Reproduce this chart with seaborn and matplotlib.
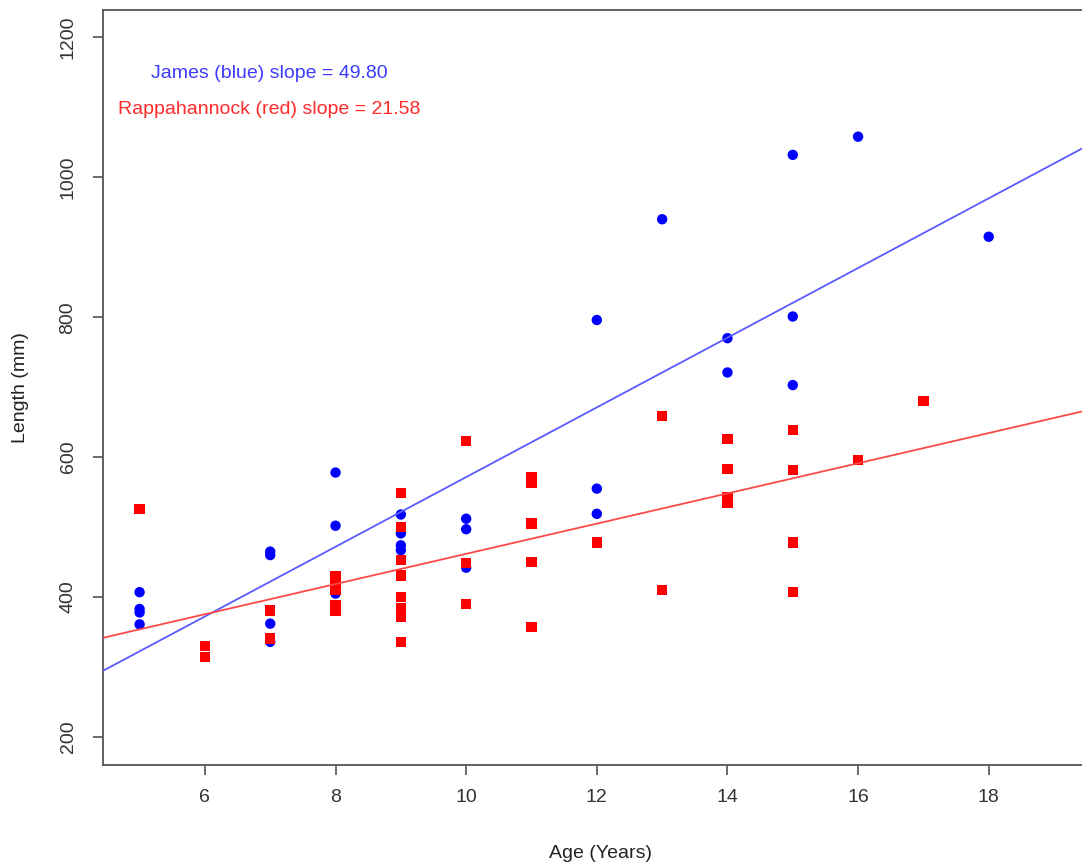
import matplotlib
matplotlib.use("Agg")
import matplotlib.pyplot as plt
import seaborn as sns
import pandas as pd

# Striped bass length-at-age for two rivers
james_age = [5, 5, 5, 5, 7, 7, 7, 7, 8, 8, 8, 9, 9, 9, 9, 10, 10, 10,
             12, 12, 12, 13, 14, 14, 15, 15, 15, 16, 18]
james_len = [407, 383, 378, 361, 465, 460, 362, 336, 578, 502, 405, 518, 491, 474, 467,
             512, 497, 442, 796, 555, 519, 940, 770, 721, 1032, 801, 703, 1058, 915]

rapp_age = [5, 6, 6, 7, 7, 8, 8, 8, 8, 8, 9, 9, 9, 9, 9, 9, 9, 9, 9,
            10, 10, 10, 11, 11, 11, 11, 11, 12, 13, 13, 14, 14, 14, 14,
            15, 15, 15, 15, 16, 17]
rapp_len = [526, 330, 314, 381, 341, 430, 420, 411, 389, 381,
            549, 500, 453, 431, 400, 384, 377, 372, 336,
            623, 449, 390, 572, 564, 505, 450, 357, 478, 659, 410,
            626, 583, 543, 535, 639, 582, 478, 407, 596, 680]

# Fitted regression lines (slope, intercept)
james_slope, james_intercept = 49.80, 73.5
rapp_slope, rapp_intercept = 21.58, 246.0

x_ticks = [6, 8, 10, 12, 14, 16, 18]
y_ticks = [200, 400, 600, 800, 1000, 1200]

df = pd.concat([
    pd.DataFrame({"age": james_age, "length": james_len, "river": "James"}),
    pd.DataFrame({"age": rapp_age, "length": rapp_len, "river": "Rappahannock"}),
], ignore_index=True)

sns.set_style("ticks")
plt.rcParams["font.family"] = ["Liberation Sans", "DejaVu Sans"]

fig = plt.figure(figsize=(10.82, 8.65), dpi=100)
ax = fig.add_axes([0.0952, 0.1156, 0.92, 0.8728])

sns.scatterplot(data=df, x="age", y="length", hue="river", style="river",
                palette={"James": "#0000FF", "Rappahannock": "#FF0000"},
                markers={"James": "o", "Rappahannock": "s"},
                s=56, linewidth=0, legend=False, ax=ax, zorder=2)

ax.axline((0, james_intercept), slope=james_slope, color="#5a5aff", lw=1.3, zorder=3)
ax.axline((0, rapp_intercept), slope=rapp_slope, color="#ff4a4a", lw=1.3, zorder=3)

ax.set_xlim(4.44, 19.68)
ax.set_ylim(160, 1239)
ax.set_xticks(x_ticks)
ax.set_yticks(y_ticks)
ax.tick_params(axis="both", length=7, width=1.1, color="#444444",
               labelsize=14, labelcolor="#333333")
ax.tick_params(axis="x", pad=10)
ax.tick_params(axis="y", pad=12)
for lbl in ax.get_yticklabels():
    lbl.set_rotation(90)
    lbl.set_va("center")

for side in ("left", "bottom", "top", "right"):
    ax.spines[side].set_color("#555555")
    ax.spines[side].set_linewidth(1.3)

ax.set_xlabel("Age (Years)", fontsize=14, color="#222222", labelpad=28)
ax.set_ylabel("Length (mm)", fontsize=14, color="#222222", labelpad=22)

ax.text(6.98, 1148, f"James (blue) slope = {james_slope:.2f}", color="#3b3bff",
        fontsize=14, ha="center", va="center")
ax.text(6.98, 1097, f"Rappahannock (red) slope = {rapp_slope:.2f}", color="#ff2a2a",
        fontsize=14, ha="center", va="center")

fig.savefig("out.png", dpi=100)
